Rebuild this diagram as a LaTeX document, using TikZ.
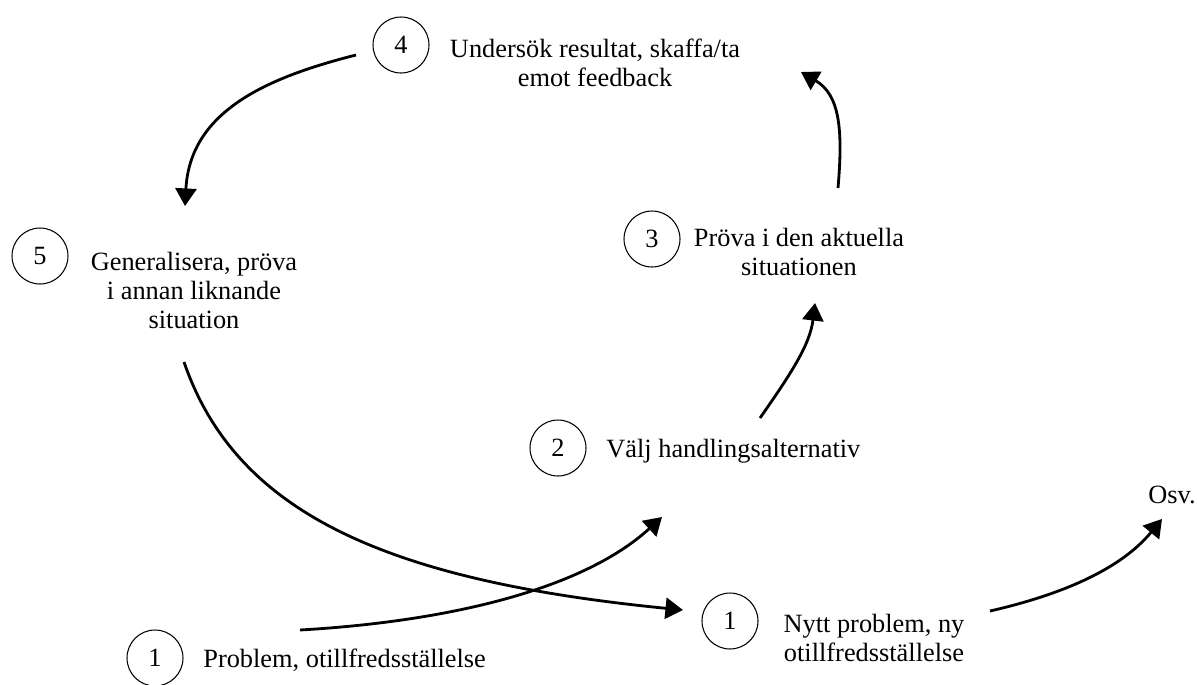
\documentclass[tikz,border=0pt]{standalone}
\usepackage{fontspec}
\setmainfont{Liberation Serif}
\usetikzlibrary{arrows.meta}

\tikzset{
  nr/.style={circle, draw, line width=0.6pt, minimum size=1.12cm, inner sep=0pt},
  stage/.style={align=center, inner sep=0pt},
  flow/.style={line width=1.6pt, -{Triangle[length=10pt,width=12pt]}}
}

\begin{document}
\begin{tikzpicture}[x=0.02cm, y=-0.02cm, font=\fontsize{15}{16.5}\selectfont]

    \clip (0,0) rectangle (1197,684);

    % numbered circles
    \node[nr] (c4) at (401,45) {4};
    \node[nr] (c5) at (40,256) {5};
    \node[nr] (c3) at (652,239) {3};
    \node[nr] (c2) at (558,448) {2};
    \node[nr] (c1) at (155,658) {1};
    \node[nr] (c1b) at (730,621) {1};

    % the texts beside them
    \node[stage] (t4) at (595,63) {Undersök resultat, skaffa/ta\\emot feedback};
    \node[stage] (t5) at (194,290) {Generalisera, pröva\\i annan liknande\\situation};
    \node[stage] (t3) at (799,252) {Pröva i den aktuella\\situationen};
    \node[stage, anchor=west] (t2) at (606,451) {Välj handlingsalternativ};
    \node[stage, anchor=west] (t1) at (203,660) {Problem, otillfredsställelse};
    \node[stage] (t1b) at (874,638) {Nytt problem, ny\\otillfredsställelse};
    \node[stage] (osv) at (1172,495) {Osv.};

    % free ends of the arrows
    \coordinate (a4s) at (356,55);   \coordinate (a4e) at (185,206);
    \coordinate (a3s) at (838,188);  \coordinate (a3e) at (801,72);
    \coordinate (a2s) at (760,418);  \coordinate (a2e) at (815,303);
    \coordinate (a5s) at (184,362);  \coordinate (a5e) at (683,610);
    \coordinate (a1s) at (300,630);  \coordinate (a1e) at (662,517);
    \coordinate (a6s) at (990,611);  \coordinate (a6e) at (1162,519);

    % the cycle
    \draw[flow] (a4s) .. controls (265,78) and (190,112) .. (a4e);
    \draw[flow] (a3s) .. controls (843,130) and (840,95) .. (a3e);
    \draw[flow] (a2s) .. controls (790,375) and (810,345) .. (a2e);
    \draw[flow] (a5s) .. controls (235,510) and (380,580) .. (a5e);
    \draw[flow] (a1s) .. controls (440,622) and (580,592) .. (a1e);
    \draw[flow] (a6s) .. controls (1060,595) and (1120,570) .. (a6e);

\end{tikzpicture}
\end{document}
